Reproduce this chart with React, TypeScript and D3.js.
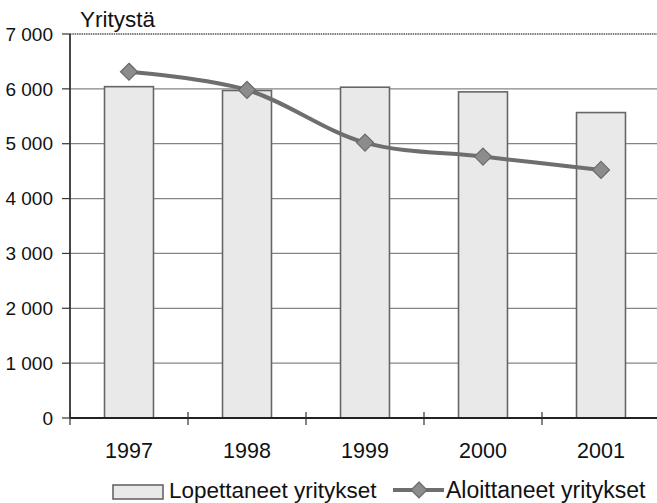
import { useEffect, useRef } from 'react';
import * as d3 from 'd3';

const years = ['1997', '1998', '1999', '2000', '2001'];
// Lopettaneet yritykset (bars)
const closedFirms = [6040, 5970, 6030, 5945, 5568];
// Aloittaneet yritykset (line)
const startedFirms = [6312, 5980, 5020, 4765, 4522];
const yTicks = [0, 1000, 2000, 3000, 4000, 5000, 6000, 7000];

const W = 657;
const H = 503;
const FONT = 'Arial, "Liberation Sans", sans-serif';

export default function App() {
  const svgRef = useRef<SVGSVGElement>(null);

  useEffect(() => {
    if (!svgRef.current) return;
    const svg = d3.select(svgRef.current);
    svg.selectAll('*').remove();

    const left = 70;
    const right = 660;
    const top = 34;
    const bottom = 418;

    const x = d3.scaleBand()
      .domain(years)
      .range([left, right])
      .paddingInner(0.585)
      .paddingOuter(0.2925);

    const y = d3.scaleLinear().domain([0, 7000]).range([bottom, top]);

    const fmt = (v: number) => d3.format(',')(v).replace(/,/g, ' ');

    // gridlines
    svg.append('g')
      .selectAll('line')
      .data(yTicks.filter(t => t > 0 && t < 7000))
      .enter().append('line')
      .attr('x1', left).attr('x2', W)
      .attr('y1', d => y(d)).attr('y2', d => y(d))
      .attr('stroke', '#858585')
      .attr('stroke-width', 1.3);

    // top border
    svg.append('line')
      .attr('x1', left).attr('x2', W)
      .attr('y1', y(7000)).attr('y2', y(7000))
      .attr('stroke', '#555')
      .attr('stroke-width', 1.5)
      .attr('stroke-dasharray', '1.5 0.8');

    // bars
    svg.append('g')
      .selectAll('rect')
      .data(closedFirms)
      .enter().append('rect')
      .attr('x', (_, i) => x(years[i]) || 0)
      .attr('y', d => y(d))
      .attr('width', x.bandwidth())
      .attr('height', d => y(0) - y(d))
      .attr('fill', '#e9e9e9')
      .attr('stroke', '#666')
      .attr('stroke-width', 1.6);

    // y axis
    const yAxis = svg.append('g');
    yAxis.append('line')
      .attr('x1', left).attr('x2', left)
      .attr('y1', top).attr('y2', bottom)
      .attr('stroke', '#333').attr('stroke-width', 1.8);
    yAxis.selectAll('.tick')
      .data(yTicks)
      .enter().append('line')
      .attr('x1', left - 8).attr('x2', left)
      .attr('y1', d => y(d)).attr('y2', d => y(d))
      .attr('stroke', '#333').attr('stroke-width', 1.2);
    yAxis.selectAll('text')
      .data(yTicks)
      .enter().append('text')
      .attr('x', 53)
      .attr('y', d => y(d))
      .attr('dy', '0.35em')
      .attr('text-anchor', 'end')
      .attr('font-family', FONT)
      .attr('font-size', 19)
      .attr('fill', '#111')
      .text(d => fmt(d));

    // x axis
    const xAxis = svg.append('g');
    xAxis.append('line')
      .attr('x1', left).attr('x2', W)
      .attr('y1', bottom).attr('y2', bottom)
      .attr('stroke', '#222').attr('stroke-width', 2.2);
    const bounds = d3.range(years.length + 1).map(i => left + i * x.step());
    xAxis.selectAll('.tick')
      .data(bounds)
      .enter().append('line')
      .attr('x1', d => d).attr('x2', d => d)
      .attr('y1', bottom - 6).attr('y2', bottom + 7)
      .attr('stroke', '#333').attr('stroke-width', 1.2);
    xAxis.selectAll('text')
      .data(years)
      .enter().append('text')
      .attr('x', d => (x(d) || 0) + x.bandwidth() / 2)
      .attr('y', 458)
      .attr('text-anchor', 'middle')
      .attr('font-family', FONT)
      .attr('font-size', 21.5)
      .attr('fill', '#111')
      .text(d => d);

    // line
    const cx = (i: number) => (x(years[i]) || 0) + x.bandwidth() / 2;
    const line = d3.line<number>()
      .x((_, i) => cx(i))
      .y(d => y(d))
      .curve(d3.curveCatmullRom.alpha(0.5));
    svg.append('path')
      .datum(startedFirms)
      .attr('d', line)
      .attr('fill', 'none')
      .attr('stroke', '#6e6e6e')
      .attr('stroke-width', 4);

    const diamond = (px: number, py: number, r: number) =>
      `M${px},${py - r}L${px + r},${py}L${px},${py + r}L${px - r},${py}Z`;
    svg.append('g')
      .selectAll('path')
      .data(startedFirms)
      .enter().append('path')
      .attr('d', (d, i) => diamond(cx(i), y(d), 8.5))
      .attr('fill', '#8c8c8c')
      .attr('stroke', '#6a6a6a')
      .attr('stroke-width', 1.2);

    // axis title
    svg.append('text')
      .attr('x', 80)
      .attr('y', 27)
      .attr('font-family', FONT)
      .attr('font-size', 22.5)
      .attr('fill', '#111')
      .text('Yritystä');

    // legend
    const lg = svg.append('g');
    lg.append('rect')
      .attr('x', 113).attr('y', 485)
      .attr('width', 50).attr('height', 14)
      .attr('fill', '#e9e9e9')
      .attr('stroke', '#666')
      .attr('stroke-width', 1.6);
    lg.append('text')
      .attr('x', 169).attr('y', 498)
      .attr('font-family', FONT)
      .attr('font-size', 22.5)
      .attr('fill', '#111')
      .text('Lopettaneet yritykset');
    lg.append('line')
      .attr('x1', 393).attr('x2', 444)
      .attr('y1', 490).attr('y2', 490)
      .attr('stroke', '#6e6e6e').attr('stroke-width', 4);
    lg.append('path')
      .attr('d', diamond(419, 490, 8))
      .attr('fill', '#8c8c8c')
      .attr('stroke', '#6a6a6a')
      .attr('stroke-width', 1.2);
    lg.append('text')
      .attr('x', 446).attr('y', 498)
      .attr('font-family', FONT)
      .attr('font-size', 23)
      .attr('fill', '#111')
      .text('Aloittaneet yritykset');
  }, []);

  return (
    <svg
      ref={svgRef}
      width={W}
      height={H}
      style={{ position: 'absolute', left: 0, top: 0, background: '#fff' }}
    />
  );
}
